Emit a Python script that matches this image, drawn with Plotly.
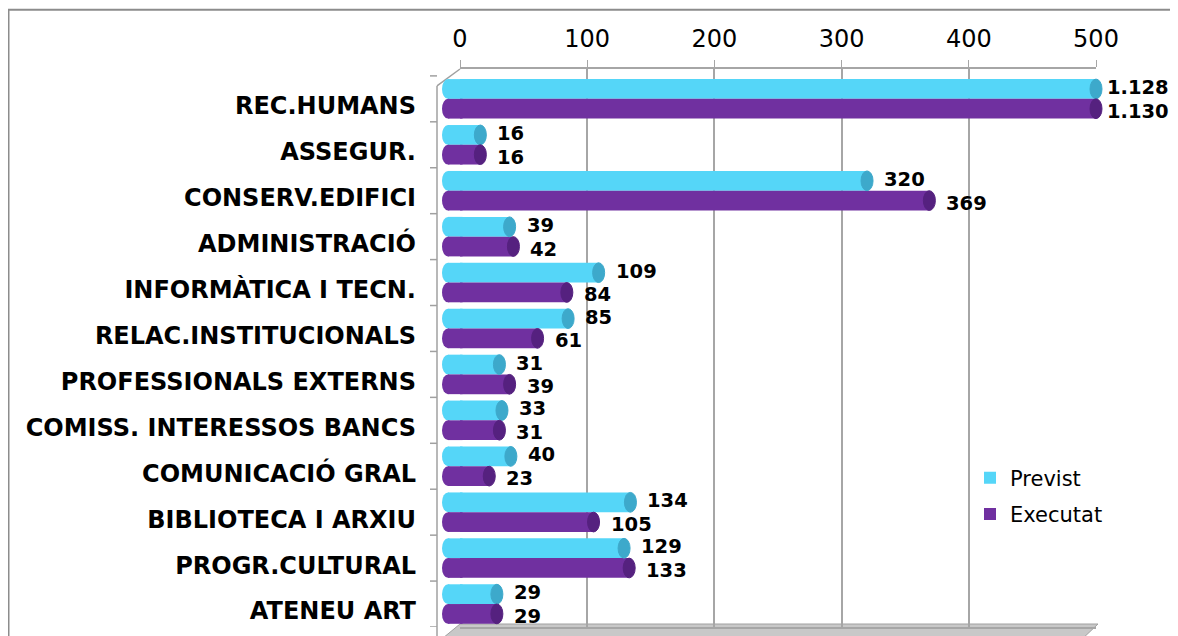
import plotly.graph_objects as go

categories = ["REC.HUMANS", "ASSEGUR.", "CONSERV.EDIFICI", "ADMINISTRACIÓ",
              "INFORMÀTICA I TECN.", "RELAC.INSTITUCIONALS", "PROFESSIONALS EXTERNS",
              "COMISS. INTERESSOS BANCS", "COMUNICACIÓ GRAL", "BIBLIOTECA I ARXIU",
              "PROGR.CULTURAL", "ATENEU ART"]
previst = [1128, 16, 320, 39, 109, 85, 31, 33, 40, 134, 129, 29]
executat = [1130, 16, 369, 42, 84, 61, 39, 31, 23, 105, 133, 29]
x_ticks = [0, 100, 200, 300, 400, 500]
x_max = 500

OFF = 8  # page offset of the figure (body margin)
W, H = 1178 - OFF, 636 - OFF
# plot area in page pixels
PL, PR, PT, PB = 460, 1096, 69, 629
L, R, T, B = PL - OFF, PR - OFF, PT - OFF, PB - OFF
Y_RANGE = [len(categories) - 0.5, -0.65]
BARGAP = 0.14
BW = (1 - BARGAP) / 2  # bar thickness in category units


def fmt(v):
    return f"{v:,}".replace(",", ".")


def px(x):  # page px -> paper
    return (x - PL) / (PR - PL)


def py(y):
    return (PB - y) / (PB - PT)


def ycat(v):  # category units -> paper
    return (Y_RANGE[0] - v) / (Y_RANGE[0] - Y_RANGE[1])


vfont = dict(family="DejaVu Sans", size=19.5, color="black", weight="bold")
# name, values, body colour, end colour, slot (-1 upper / 0 lower), label y-shift
series = [("Previst", previst, "#55D6F8", "#3DA9CB", -1, 1.5),
          ("Executat", executat, "#7030A0", "#55217F", 0, -2.5)]

fig = go.Figure()
shapes = [
    # outer chart frame (top & left visible)
    dict(type="rect", xref="paper", yref="paper", x0=px(8.5), x1=px(1200), y0=py(660), y1=py(9.5),
         line=dict(color="#8C8C8C", width=2), layer="below"),
    # floor
    dict(type="path", xref="paper", yref="paper",
         path=f"M {px(437)} {py(645)} L {px(460)} {py(626)} L {px(1098)} {py(626)} L {px(1078)} {py(645)} Z",
         fillcolor="#C8C8C8", line=dict(color="#A0A0A0", width=1), layer="below"),
    # front-left wall line
    dict(type="line", xref="paper", yref="paper", x0=px(437), x1=px(437), y0=py(86), y1=py(645),
         line=dict(color="#A0A0A0", width=1.5), layer="below"),
    dict(type="line", xref="paper", yref="paper", x0=px(437), x1=px(460), y0=py(86), y1=py(69),
         line=dict(color="#A0A0A0", width=1.5), layer="below"),
]
for i in range(len(categories) + 1):
    shapes.append(dict(type="line", xref="paper", yref="y", x0=px(430), x1=px(437),
                       y0=i - 0.5, y1=i - 0.5, line=dict(color="#A0A0A0", width=1.5)))

annotations = []
cap_w = 6 / (PR - PL)  # half-width of the cylinder end ellipse, paper units
back = px(448)  # cylinder back end (perspective offset)
for name, vals, col, capcol, k, ysh in series:
    fig.add_trace(go.Bar(
        name=name, y=categories, x=[min(v, x_max) for v in vals], orientation="h",
        legendgroup=name, cliponaxis=False,
        marker=dict(color=col, line=dict(width=0)),
    ))
    for i, v in enumerate(vals):
        y0, y1 = ycat(i + k * BW), ycat(i + (k + 1) * BW)
        xe = min(v, x_max) / x_max
        shapes.append(dict(type="circle", xref="paper", yref="paper",
                           x0=back - cap_w, x1=back + cap_w, y0=y0, y1=y1,
                           fillcolor=col, line=dict(width=0), layer="between"))
        shapes.append(dict(type="rect", xref="paper", yref="paper",
                           x0=back, x1=0.004, y0=y0, y1=y1,
                           fillcolor=col, line=dict(width=0), layer="between"))
        shapes.append(dict(type="circle", xref="paper", yref="paper",
                           x0=xe - cap_w, x1=xe + cap_w, y0=y0, y1=y1,
                           fillcolor=capcol, line=dict(color=capcol, width=1)))
        annotations.append(dict(xref="x", yref="y", x=min(v, x_max), y=i + (k + 0.5) * BW,
                                text=fmt(v), showarrow=False, xanchor="left", yanchor="middle",
                                xshift=9 if v > x_max else 15, yshift=ysh, font=vfont))

fig.update_layout(
    width=W, height=H,
    margin=dict(l=L, r=W - R, t=T, b=H - B),
    paper_bgcolor="white", plot_bgcolor="white",
    barmode="group", bargap=BARGAP, bargroupgap=0.0,
    font=dict(family="DejaVu Sans", color="black"),
    showlegend=True,
    legend=dict(x=px(970), y=py(459), xanchor="left", yanchor="top",
                bgcolor="rgba(0,0,0,0)", font=dict(size=21, family="DejaVu Sans"),
                itemwidth=30, tracegroupgap=6),
    shapes=shapes,
    annotations=annotations,
    xaxis=dict(side="top", range=[0, x_max], tickvals=x_ticks, showgrid=True,
               gridcolor="#A6A6A6", gridwidth=1.5, zeroline=False,
               showline=True, linecolor="#A6A6A6", linewidth=1.5, mirror=True,
               ticks="outside", ticklen=7, tickcolor="#A6A6A6", ticklabelstandoff=4,
               tickfont=dict(size=24, family="DejaVu Sans", color="black")),
    yaxis=dict(autorange=False, range=Y_RANGE,
               showgrid=False, showline=False, ticks="",
               ticklabelstandoff=43, ticklabelshift=-7,
               tickfont=dict(size=24, family="DejaVu Sans", color="black", weight="bold")),
)

fig.write_html("out.html")
